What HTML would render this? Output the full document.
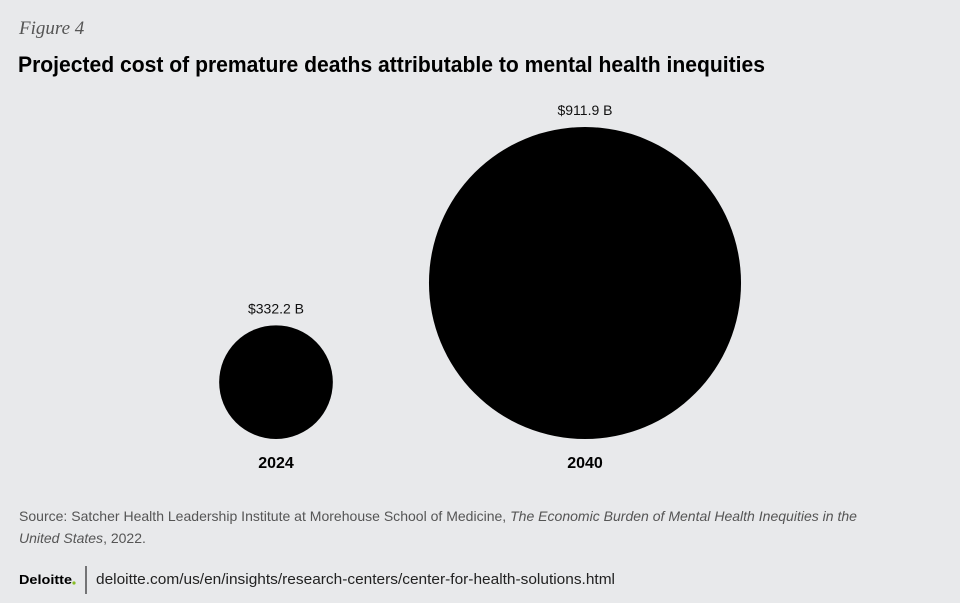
<!DOCTYPE html>
<html><head><meta charset="utf-8"><style>
html,body{margin:0;padding:0;background:#e8e9eb;}
svg{display:block;}
</style></head><body>
<svg id="chart" width="960" height="603" viewBox="0 0 960 603" xmlns="http://www.w3.org/2000/svg">
<rect width="960" height="603" fill="#e8e9eb"/>
<text x="19" y="34" font-family="Liberation Serif, serif" font-style="italic" font-size="19" fill="#555">Figure 4</text>
<text x="18" y="72" font-family="Liberation Sans, sans-serif" font-weight="bold" font-size="22" fill="#000" textLength="747" lengthAdjust="spacingAndGlyphs">Projected cost of premature deaths attributable to mental health inequities</text>
<g id="marks"></g>
<text x="19" y="521" font-family="Liberation Sans, sans-serif" font-size="14" fill="#555" textLength="838" lengthAdjust="spacingAndGlyphs">Source: Satcher Health Leadership Institute at Morehouse School of Medicine, <tspan font-style="italic">The Economic Burden of Mental Health Inequities in the</tspan></text>
<text x="19" y="543" font-family="Liberation Sans, sans-serif" font-size="14" fill="#555"><tspan font-style="italic">United States</tspan>, 2022.</text>
<text x="19" y="584" font-family="Liberation Sans, sans-serif" font-weight="bold" font-size="13" fill="#000" textLength="53" lengthAdjust="spacingAndGlyphs">Deloitte</text>
<circle cx="74" cy="583" r="1.6" fill="#86bc25"/>
<line x1="86" y1="566" x2="86" y2="594" stroke="#000" stroke-width="1"/>
<text x="96" y="584" font-family="Liberation Sans, sans-serif" font-size="15" fill="#222" textLength="519" lengthAdjust="spacingAndGlyphs">deloitte.com/us/en/insights/research-centers/center-for-health-solutions.html</text>
</svg>
<script>
const years = ["2024", "2040"];
const values = [332.2, 911.9];
const valueLabels = ["$332.2 B", "$911.9 B"];

const ns = "http://www.w3.org/2000/svg";
const g = document.getElementById("marks");
const centersX = [276, 585];
const baseY = 439;
function rScale(v){ return v * 0.1711; }
years.forEach((yr, i) => {
  const r = rScale(values[i]);
  const c = document.createElementNS(ns, "circle");
  c.setAttribute("cx", centersX[i]);
  c.setAttribute("cy", baseY - r);
  c.setAttribute("r", r);
  c.setAttribute("fill", "#000");
  
  
  g.appendChild(c);
  const vl = document.createElementNS(ns, "text");
  vl.setAttribute("x", centersX[i]);
  vl.setAttribute("y", baseY - 2 * r - 12);
  vl.setAttribute("text-anchor", "middle");
  vl.setAttribute("font-family", "Liberation Sans, sans-serif");
  vl.setAttribute("font-size", "14");
  vl.setAttribute("fill", "#111");
  vl.textContent = valueLabels[i];
  
  
  g.appendChild(vl);
  const yl = document.createElementNS(ns, "text");
  yl.setAttribute("x", centersX[i]);
  yl.setAttribute("y", 468);
  yl.setAttribute("text-anchor", "middle");
  yl.setAttribute("font-family", "Liberation Sans, sans-serif");
  yl.setAttribute("font-weight", "bold");
  yl.setAttribute("font-size", "16");
  yl.setAttribute("fill", "#000");
  yl.textContent = yr;
  
  
  g.appendChild(yl);
});
</script>
</body></html>
